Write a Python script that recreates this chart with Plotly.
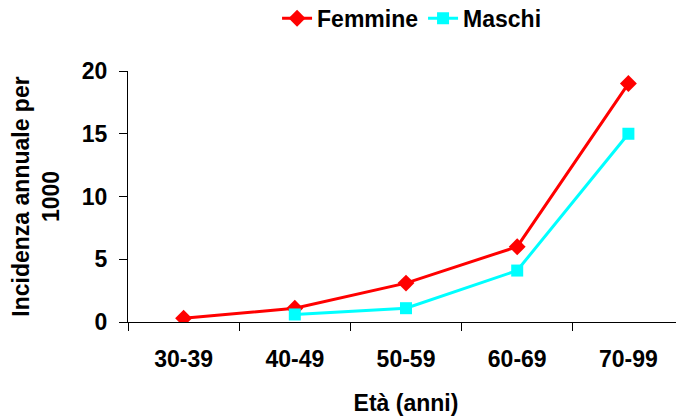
import plotly.graph_objects as go

categories = ["30-39", "40-49", "50-59", "60-69", "70-99"]
femmine = [0.3, 1.1, 3.1, 6.0, 19.0]
maschi = [None, 0.6, 1.1, 4.1, 15.0]
y_ticks = [0, 5, 10, 15, 20]

FONT = "Liberation Sans, Arial, sans-serif"
FS = 23

fig = go.Figure()
fig.add_trace(go.Scatter(
    x=categories, y=femmine, name="Femmine", mode="lines+markers",
    line=dict(color="#FF0000", width=3),
    marker=dict(symbol="diamond", size=13, color="#FF0000"),
))
fig.add_trace(go.Scatter(
    x=categories, y=maschi, name="Maschi", mode="lines+markers",
    line=dict(color="#00FFFF", width=3),
    marker=dict(symbol="square", size=12, color="#00FFFF"),
))

# page body has an 8px default margin, so the figure is offset by 8px
fig.update_layout(
    width=676, height=408,
    margin=dict(l=120, r=0, t=63, b=94, autoexpand=False),
    paper_bgcolor="white", plot_bgcolor="white",
    font=dict(family=FONT, size=FS, color="black", weight="bold"),
    showlegend=True,
    legend=dict(orientation="h", x=0.51, xanchor="center", y=1.21, yanchor="middle",
                font=dict(family=FONT, size=FS, color="black", weight="bold"),
                itemwidth=30, tracegroupgap=0),
)
fig.update_xaxes(
    type="category", range=[-0.5, 4.5],
    showline=True, linecolor="black", linewidth=1,
    ticks="outside", ticklen=8, tickcolor="black", tickson="boundaries",
    ticklabelstandoff=16,
    showgrid=False, zeroline=False,
    tickfont=dict(family=FONT, size=FS, color="black", weight="bold"),
    title=dict(text="Età (anni)", standoff=25,
               font=dict(family=FONT, size=FS, color="black", weight="bold")),
)
fig.update_yaxes(
    range=[0, 20], tickvals=y_ticks,
    showline=True, linecolor="black", linewidth=1,
    ticks="outside", ticklen=8, tickcolor="black",
    ticklabelstandoff=7,
    showgrid=False, zeroline=False,
    tickfont=dict(family=FONT, size=FS, color="black", weight="bold"),
    title=dict(text="Incidenza annuale per<br>1000", standoff=16,
               font=dict(family=FONT, size=FS, color="black", weight="bold")),
)

fig.write_html("out.html")
